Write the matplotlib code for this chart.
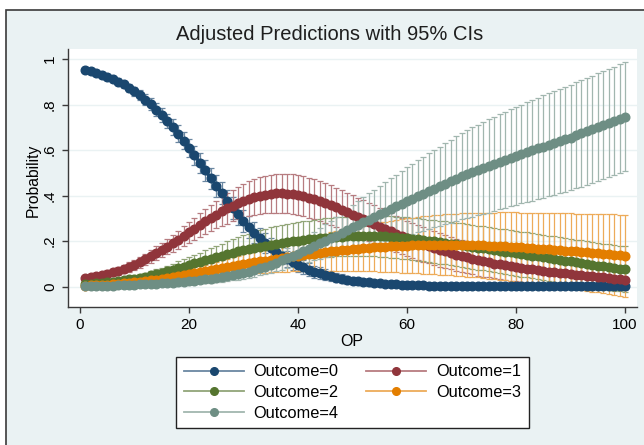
import numpy as np
import matplotlib
matplotlib.use("Agg")
import matplotlib.pyplot as plt
from matplotlib.lines import Line2D
from matplotlib.patches import Rectangle
from matplotlib.colors import to_rgb

plt.rcParams['font.family'] = ['Liberation Sans', 'DejaVu Sans']

# OP values (margins at OP = 1..100)
op = np.arange(1, 101)

# predicted probabilities, one value per OP
p0 = [.953, .947, .939, .931, .922, .912, .900, .888, .873, .858,
      .840, .821, .801, .778, .754, .728, .701, .672, .641, .610,
      .577, .544, .510, .476, .443, .410, .378, .346, .317, .288,
      .261, .236, .212, .191, .171, .153, .136, .121, .107, .095,
      .084, .074, .065, .058, .051, .045, .039, .034, .030, .026,
      .023, .020, .018, .016, .014, .012, .011, .009, .008, .007,
      .006, .005, .005, .004, .004, .003, .003, .002, .002, .002,
      .002, .002, .002, .001, .001, .001, .001, .001, .001, .001,
      .001, .001, .001, .001, .001, .001, .001, .001, .001, .001,
      .001, .001, .001, .001, .001, .001, .001, .001, .001, .001]
p1 = [.036, .040, .045, .050, .056, .062, .069, .077, .086, .096,
      .107, .119, .132, .146, .160, .175, .190, .206, .222, .238,
      .254, .270, .286, .301, .316, .330, .343, .356, .367, .377,
      .386, .393, .399, .404, .407, .409, .409, .408, .405, .401,
      .396, .390, .383, .375, .367, .358, .348, .338, .327, .316,
      .305, .295, .284, .274, .263, .253, .242, .232, .222, .212,
      .203, .194, .185, .177, .169, .161, .154, .147, .140, .134,
      .128, .122, .116, .111, .106, .101, .097, .093, .089, .085,
      .081, .078, .075, .072, .069, .066, .063, .060, .058, .055,
      .052, .050, .047, .045, .042, .040, .038, .035, .033, .030]
p2 = [.010, .012, .014, .016, .018, .021, .024, .027, .031, .035,
      .039, .044, .049, .055, .061, .067, .074, .081, .088, .095,
      .102, .109, .116, .123, .130, .136, .142, .148, .154, .160,
      .165, .170, .175, .179, .183, .187, .191, .194, .198, .201,
      .204, .207, .210, .212, .214, .216, .218, .219, .220, .221,
      .222, .222, .222, .222, .221, .220, .218, .216, .214, .212,
      .209, .207, .204, .201, .198, .195, .192, .189, .185, .182,
      .178, .175, .171, .168, .164, .160, .157, .153, .150, .146,
      .142, .139, .135, .132, .128, .124, .121, .117, .114, .110,
      .106, .103, .099, .096, .092, .089, .086, .082, .079, .076]
p3 = [.004, .005, .006, .007, .008, .010, .012, .014, .016, .018,
      .021, .024, .027, .030, .034, .038, .042, .046, .050, .054,
      .058, .063, .067, .072, .076, .081, .085, .090, .094, .098,
      .102, .106, .110, .114, .118, .122, .125, .129, .132, .136,
      .139, .142, .145, .148, .151, .154, .156, .159, .161, .164,
      .166, .168, .170, .172, .174, .175, .177, .178, .179, .180,
      .181, .182, .183, .183, .184, .184, .184, .184, .184, .184,
      .183, .183, .182, .181, .180, .179, .178, .177, .175, .174,
      .172, .171, .169, .167, .165, .164, .162, .160, .158, .156,
      .154, .152, .150, .148, .146, .144, .142, .140, .138, .136]
p4 = [.002, .002, .003, .003, .004, .004, .005, .006, .007, .008,
      .009, .010, .011, .012, .014, .015, .017, .019, .021, .023,
      .025, .028, .031, .034, .037, .041, .045, .049, .054, .060,
      .066, .073, .080, .088, .096, .105, .115, .125, .135, .145,
      .156, .167, .178, .190, .201, .213, .224, .236, .248, .260,
      .271, .283, .294, .306, .317, .329, .340, .352, .363, .375,
      .386, .397, .408, .419, .430, .441, .452, .463, .474, .485,
      .494, .503, .512, .521, .530, .539, .548, .557, .566, .575,
      .583, .591, .599, .607, .615, .623, .631, .639, .647, .655,
      .664, .673, .682, .691, .700, .709, .718, .728, .737, .746]

# half width of the 95% CIs
ci0 = [.010, .011, .011, .012, .013, .014, .015, .016, .018, .020,
       .022, .024, .026, .028, .030, .032, .034, .036, .038, .040,
       .042, .044, .046, .047, .048, .048, .048, .048, .048, .048,
       .047, .046, .045, .044, .042, .040, .038, .036, .035, .033,
       .031, .029, .027, .026, .024, .022, .021, .020, .018, .017,
       .016, .015, .014, .013, .012, .011, .010, .009, .009, .008,
       .008, .007, .007, .006, .006, .005, .005, .005, .004, .004,
       .004, .004, .004, .003, .003, .003, .003, .003, .003, .003,
       .003, .003, .003, .003, .002, .002, .002, .002, .002, .002,
       .002, .002, .002, .002, .002, .002, .002, .002, .002, .002]
ci1 = [.012, .012, .013, .014, .015, .016, .017, .018, .020, .022,
       .024, .026, .028, .030, .032, .034, .037, .040, .042, .045,
       .048, .051, .054, .057, .060, .063, .066, .069, .072, .075,
       .077, .079, .081, .083, .085, .086, .087, .087, .088, .088,
       .088, .088, .088, .088, .088, .088, .087, .087, .086, .086,
       .085, .084, .084, .083, .082, .081, .081, .080, .079, .078,
       .077, .077, .076, .075, .074, .073, .073, .072, .071, .070,
       .069, .069, .068, .067, .066, .065, .065, .064, .063, .062,
       .061, .061, .060, .059, .058, .057, .057, .056, .055, .054,
       .053, .053, .052, .051, .050, .049, .049, .048, .047, .046]
ci2 = [.006, .006, .007, .007, .008, .009, .010, .011, .012, .014,
       .015, .017, .018, .020, .022, .024, .026, .029, .031, .034,
       .037, .040, .043, .047, .050, .053, .056, .059, .062, .065,
       .068, .070, .073, .075, .077, .078, .079, .080, .081, .082,
       .083, .083, .084, .084, .085, .086, .086, .087, .087, .088,
       .088, .089, .089, .089, .090, .090, .091, .091, .091, .092,
       .092, .093, .093, .093, .094, .094, .095, .095, .095, .096,
       .096, .096, .097, .097, .097, .098, .098, .098, .099, .099,
       .099, .099, .099, .100, .100, .100, .100, .100, .100, .100,
       .100, .100, .100, .100, .100, .100, .100, .100, .100, .100]
ci3 = [.004, .004, .005, .005, .006, .006, .007, .008, .009, .010,
       .011, .012, .013, .015, .016, .018, .019, .021, .022, .024,
       .026, .028, .029, .031, .033, .035, .037, .039, .041, .043,
       .045, .048, .050, .053, .055, .058, .060, .063, .065, .068,
       .071, .074, .076, .079, .082, .085, .087, .090, .092, .095,
       .098, .100, .103, .105, .108, .110, .113, .115, .118, .120,
       .122, .124, .126, .128, .130, .132, .133, .135, .136, .138,
       .139, .141, .142, .144, .145, .146, .148, .149, .151, .152,
       .153, .154, .156, .157, .158, .159, .161, .162, .164, .165,
       .166, .168, .169, .171, .172, .174, .175, .177, .178, .180]
ci4 = [.002, .002, .002, .003, .003, .003, .004, .004, .005, .005,
       .006, .006, .007, .007, .008, .009, .009, .010, .011, .012,
       .013, .014, .015, .017, .018, .019, .021, .022, .024, .025,
       .027, .029, .031, .033, .035, .038, .041, .044, .047, .050,
       .054, .058, .063, .067, .072, .077, .083, .088, .094, .100,
       .105, .110, .115, .120, .125, .130, .135, .140, .145, .150,
       .154, .158, .162, .166, .170, .174, .178, .182, .186, .190,
       .193, .196, .199, .202, .205, .207, .209, .211, .213, .215,
       .217, .219, .221, .223, .225, .226, .228, .229, .231, .232,
       .233, .234, .235, .236, .237, .238, .238, .239, .239, .240]

labels = ['Outcome=0', 'Outcome=1', 'Outcome=2', 'Outcome=3', 'Outcome=4']
colors = ['#1a476f', '#90353b', '#55752f', '#e37e00', '#6e8e84']
means = [p0, p1, p2, p3, p4]
cis = [ci0, ci1, ci2, ci3, ci4]

BG = '#eaf2f3'
W, H = 644, 445


def lighten(col, amount):
    '''Mix a colour with white.'''
    r, g, b = to_rgb(col)
    return (r + (1 - r) * amount, g + (1 - g) * amount, b + (1 - b) * amount)


fig = plt.figure(figsize=(W / 100, H / 100), dpi=100)
fig.patch.set_facecolor('white')
# stata graph region (cropped at right and bottom)
fig.patches.append(Rectangle((6 / W, -0.05), 1.0, (H - 10) / H + 0.05,
                             transform=fig.transFigure, facecolor=BG,
                             edgecolor='#3a3a3a', lw=1.2, zorder=-10))

ax = fig.add_axes([68 / W, 1 - 307 / H, (637 - 68) / W, (307 - 49) / H])
ax.set_facecolor('white')

# CIs first, then the connected lines
for m, c, col in zip(means, cis, colors):
    ax.errorbar(op, m, yerr=c, fmt='none', ecolor=lighten(col, 0.35),
                elinewidth=0.9, capsize=2.3, capthick=0.9, zorder=2)
for m, col in zip(means, colors):
    ax.plot(op, m, '-o', color=col, ms=6.2, lw=2.5, zorder=3)

ax.set_xlim(-2.2, 102.2)
ax.set_ylim(-0.09, 1.044)
ax.set_xticks([0, 20, 40, 60, 80, 100])
ax.set_yticks([0, .2, .4, .6, .8, 1])
ax.set_yticklabels(['0', '.2', '.4', '.6', '.8', '1'], rotation=90, va='center')
ax.yaxis.grid(True, color=BG, lw=1, zorder=0)
ax.set_axisbelow(True)
for s in ['top', 'right']:
    ax.spines[s].set_visible(False)
for s in ['left', 'bottom']:
    ax.spines[s].set_color('#3a3a3a')
    ax.spines[s].set_linewidth(1)
ax.tick_params(axis='both', length=4, width=1, color='#3a3a3a',
               labelsize=11, pad=4, labelcolor='black')

fig.text(330 / W, 1 - 35 / H, 'Adjusted Predictions with 95% CIs',
         ha='center', va='center', fontsize=14.5, color='#1e1e1e')
fig.text(33 / W, 1 - 180 / H, 'Probability', rotation=90,
         ha='center', va='center', fontsize=11.3)
fig.text(352 / W, 1 - 342 / H, 'OP', ha='center', va='center', fontsize=11.5)

handles = []
for col in colors:
    handles.append(Line2D([], [], color=lighten(col, 0.35), lw=1.3, marker='o',
                          ms=5.5, markerfacecolor=col, markeredgecolor=col))
order = [0, 2, 4, 1, 3]
leg = fig.legend([handles[i] for i in order], [labels[i] for i in order],
                 ncol=2, loc='upper center', bbox_to_anchor=(352.5 / W, 1 - 357 / H),
                 borderaxespad=0, fontsize=11.8, handlelength=3.65,
                 labelspacing=0.35, columnspacing=1.7, handletextpad=0.6,
                 borderpad=0.45, fancybox=False, frameon=True,
                 edgecolor='#222222', facecolor='white', framealpha=1)
leg.get_frame().set_linewidth(1)

fig.savefig('out.png', dpi=100, facecolor=fig.get_facecolor())
